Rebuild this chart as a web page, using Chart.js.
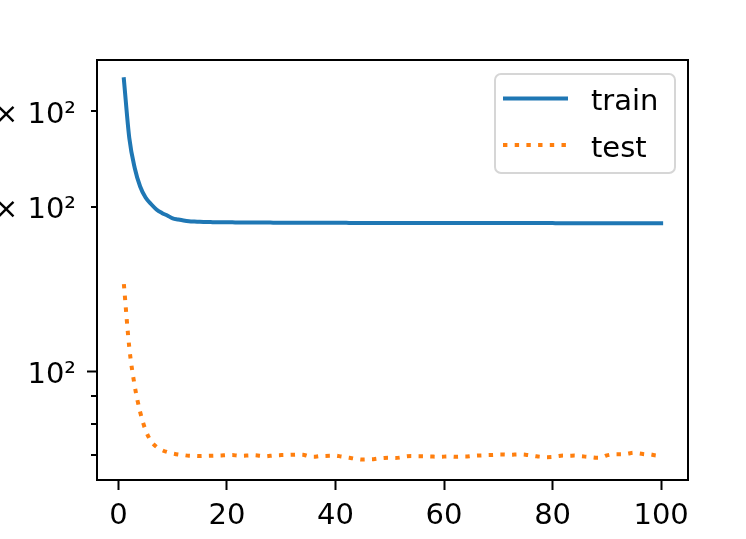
<!DOCTYPE html>
<html><head><meta charset="utf-8">
<script src="https://cdn.jsdelivr.net/npm/chart.js@4.4.1/dist/chart.umd.min.js"></script>
<style>html,body{margin:0;padding:0;background:#fff;overflow:hidden}canvas{display:block}</style>
</head><body>
<canvas id="c" width="746" height="539"></canvas>
<script>
const epochs = [1,2,3,4,5,6,7,8,9,10,11,12,13,14,15,16,17,18,19,20,21,22,23,24,25,26,27,28,29,30,31,32,33,34,35,36,37,38,39,40,41,42,43,44,45,46,47,48,49,50,51,52,53,54,55,56,57,58,59,60,61,62,63,64,65,66,67,68,69,70,71,72,73,74,75,76,77,78,79,80,81,82,83,84,85,86,87,88,89,90,91,92,93,94,95,96,97,98,99,100];
const trainLoss = [343,267.6,235.8,218.1,208.1,202.5,197.9,195.0,192.9,190.6,
  189.7,188.9,188.3,188.0,187.8,187.7,187.6,187.5,187.5,187.4,
  187.4,187.3,187.3,187.3,187.2,187.2,187.2,187.2,187.1,187.1,
  187.1,187.1,187.1,187.1,187.0,187.0,187.0,187.0,187.0,187.0,
  187.0,187.0,186.9,186.9,186.9,186.9,186.9,186.9,186.9,186.9,
  186.9,186.9,186.9,186.9,186.9,186.9,186.9,186.9,186.9,186.9,
  186.8,186.8,186.8,186.8,186.8,186.8,186.8,186.8,186.8,186.8,
  186.8,186.8,186.8,186.8,186.8,186.8,186.8,186.8,186.8,186.8,
  186.7,186.7,186.7,186.7,186.7,186.7,186.7,186.7,186.7,186.7,
  186.7,186.7,186.7,186.7,186.7,186.6,186.6,186.6,186.6,186.6];
const testLoss = [144.4,110.4,93.9,84.1,77.9,74.4,72.6,71.6,71.0,70.6,
  70.3,70.1,69.9,69.85,69.8,69.85,69.9,69.95,70.0,70.1,
  70.1,69.95,69.9,70.0,70.05,69.9,69.75,69.9,70.05,70.1,
  70.15,70.2,70.25,70.2,69.8,69.6,69.8,69.85,69.9,69.95,
  69.7,69.45,69.2,68.95,68.8,68.85,68.9,69.1,69.25,69.3,
  69.25,69.4,69.7,69.8,69.75,69.75,69.7,69.65,69.6,69.65,
  69.7,69.6,69.65,69.65,69.8,69.95,70.0,70.1,70.15,70.25,
  70.25,70.2,70.25,70.3,70.2,70.0,69.75,69.6,69.5,69.55,
  69.8,69.95,69.9,69.95,69.8,69.65,69.5,69.35,69.4,70.0,
  70.3,70.35,70.35,70.6,70.8,70.6,70.35,70.3,70.0,69.9];
const seriesNames = ['train', 'test'];
const seriesColors = ['#1f77b4', '#ff7f0e'];
const xTickValues = [0, 20, 40, 60, 80, 100];
const yTickValues = [70, 80, 90, 100, 200, 300];
const yTickLabels = ['', '', '', '10\u00B2', '2 \u00D7 10\u00B2', '3 \u00D7 10\u00B2'];
const yMajorValues = [100];
const xRange = [-3.95, 104.95];
const yRange = [63.1, 372.1];

const FONT = 'DejaVu Sans';
const FS = 29;
const dotDash = [4.4, 7.3];

const framePlugin = {
  id: 'frame',
  afterDraw(chart) {
    const { ctx, chartArea: a, scales } = chart;
    ctx.save();
    ctx.strokeStyle = '#000';
    ctx.lineWidth = 2;
    // minor y ticks
    yTickValues.forEach(v => {
      if (yMajorValues.includes(v)) return;
      const y = Math.round(scales.y.getPixelForValue(v));
      ctx.beginPath();
      ctx.moveTo(a.left - 6, y);
      ctx.lineTo(a.left, y);
      ctx.stroke();
    });
    // spines
    ctx.strokeRect(a.left, a.top, a.right - a.left, a.bottom - a.top);
    // legend
    const bx = a.right - 193, by = a.top + 14, bw = 180, bh = 99;
    ctx.beginPath();
    ctx.roundRect(bx, by, bw, bh, 6);
    ctx.fillStyle = 'rgba(255,255,255,0.8)';
    ctx.fill();
    ctx.strokeStyle = '#d6d6d6';
    ctx.lineWidth = 2;
    ctx.stroke();
    const ds = chart.data.datasets;
    const rowsY = [by + 24.5, by + 71];
    ds.forEach((d, i) => {
      const y = rowsY[i];
      ctx.beginPath();
      ctx.strokeStyle = d.borderColor;
      ctx.lineWidth = d.borderWidth;
      ctx.lineCap = d.borderCapStyle || 'butt';
      ctx.setLineDash(d.borderDash || []);
      const x0 = bx + 8 + (d.borderDash && d.borderDash.length ? 0 : 2);
      ctx.moveTo(x0, y);
      ctx.lineTo(bx + 71, y);
      ctx.stroke();
      ctx.setLineDash([]);
      ctx.fillStyle = '#000';
      ctx.font = FS + 'px "' + FONT + '"';
      ctx.textBaseline = 'alphabetic';
      ctx.textAlign = 'left';
      ctx.fillText(d.label, bx + 96, y + 11.5);
    });
    ctx.restore();
  }
};

new Chart(document.getElementById('c'), {
  type: 'line',
  data: {
    datasets: [
      { label: seriesNames[0], data: epochs.map((e, i) => ({ x: e, y: trainLoss[i] })),
        borderColor: seriesColors[0], borderWidth: 4, borderCapStyle: 'square', borderJoinStyle: 'round',
        cubicInterpolationMode: 'monotone', pointRadius: 0, fill: false },
      { label: seriesNames[1], data: epochs.map((e, i) => ({ x: e, y: testLoss[i] })),
        borderColor: seriesColors[1], borderWidth: 4, borderDash: dotDash, borderCapStyle: 'butt', borderJoinStyle: 'round',
        cubicInterpolationMode: 'monotone', pointRadius: 0, fill: false }
    ]
  },
  options: {
    responsive: false,
    animation: false,
    events: [],
    layout: { padding: { left: 0, right: 58, top: 60, bottom: 0 } },
    plugins: { legend: { display: false }, tooltip: { enabled: false } },
    scales: {
      x: {
        type: 'linear', min: xRange[0], max: xRange[1],
        afterBuildTicks: s => { s.ticks = xTickValues.map(v => ({ value: v })); },
        afterFit: s => { s.height = 59; },
        grid: { drawOnChartArea: false, drawTicks: true, tickLength: 10, tickWidth: 2, tickColor: '#000' },
        border: { display: true, color: '#000', width: 2 },
        ticks: { autoSkip: false, maxRotation: 0, padding: 9, color: '#000', font: { family: FONT, size: FS },
          callback: v => String(v) }
      },
      y: {
        type: 'logarithmic', min: yRange[0], max: yRange[1],
        afterBuildTicks: s => { s.ticks = yTickValues.map(v => ({ value: v })); },
        afterFit: s => { s.width = 97; },
        grid: { drawOnChartArea: false, drawTicks: true, tickLength: 10, tickWidth: 2,
          tickColor: c => (c.tick && yMajorValues.includes(c.tick.value)) ? '#000' : 'rgba(0,0,0,0)' },
        border: { display: true, color: '#000', width: 2 },
        ticks: { autoSkip: false, padding: 11, labelOffset: 4, color: '#000', font: { family: FONT, size: FS },
          callback: v => { const i = yTickValues.indexOf(v); return i >= 0 ? yTickLabels[i] : ''; } }
      }
    }
  },
  plugins: [framePlugin]
});
</script>
</body></html>
